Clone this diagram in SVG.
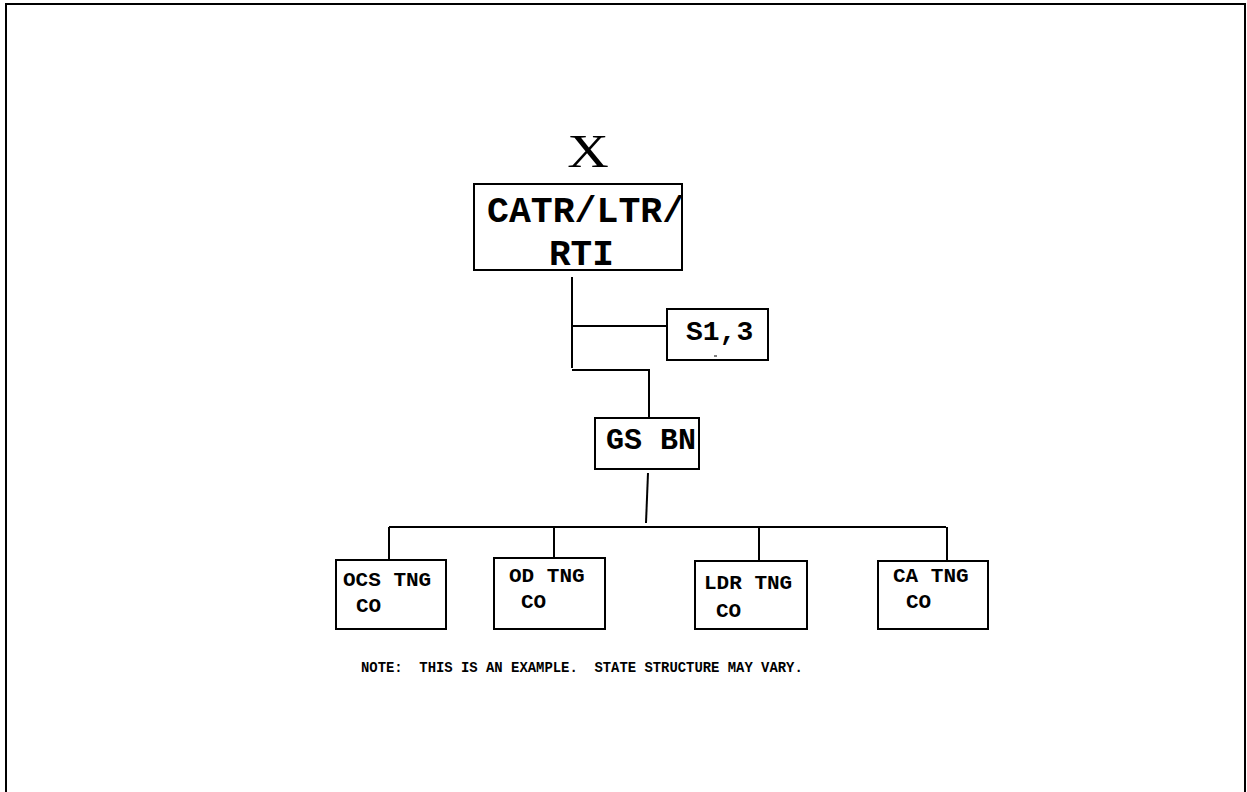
<svg xmlns="http://www.w3.org/2000/svg" width="1247" height="792" viewBox="0 0 1247 792">
<style>
.box{fill:#fff;stroke:#000;stroke-width:2}
.ln{fill:none;stroke:#000;stroke-width:2}
text{font-family:"Liberation Mono","Courier New",monospace;font-weight:bold;fill:#000}
</style>
<rect x="0" y="0" width="1247" height="792" fill="#fff"/>
<path d="M6,800 V4 H1245 V800" fill="none" stroke="#000" stroke-width="2"/>
<g id="connectors">
<path class="ln" d="M572,277 V368"/>
<path class="ln" d="M572,326 H667"/>
<path class="ln" d="M572,370 H649 V418"/>
<path class="ln" d="M648,473 L646,523"/>
<path class="ln" d="M389,527 H946"/>
<path class="ln" d="M389,527 V560"/>
<path class="ln" d="M554,527 V558"/>
<path class="ln" d="M759,527 V561"/>
<path class="ln" d="M947,527 V561"/>
</g>
<text transform="translate(588,167) scale(1.25,1)" x="0" y="0" font-size="46" style="font-family:'Liberation Serif','Times New Roman',serif;font-weight:normal" text-anchor="middle">X</text>
<g id="catr">
<rect class="box" x="474" y="184" width="208" height="86"/>
<text x="487" y="222" font-size="36.5">CATR/LTR/</text>
<text x="549" y="265" font-size="36">RTI</text>
</g>
<g id="s13">
<rect class="box" x="667" y="309" width="101" height="51"/>
<text x="686" y="340" font-size="28">S1,3</text>
<path d="M714,356 H717" stroke="#000" stroke-width="1"/>
</g>
<g id="gsbn">
<rect class="box" x="595" y="418" width="104" height="51"/>
<text x="606" y="449" font-size="30">GS BN</text>
</g>
<g id="ocs">
<rect class="box" x="336" y="560" width="110" height="69"/>
<text x="343" y="586" font-size="21">OCS TNG</text>
<text x="356" y="612" font-size="21">CO</text>
</g>
<g id="od">
<rect class="box" x="494" y="558" width="111" height="71"/>
<text x="509" y="582" font-size="21">OD TNG</text>
<text x="521" y="608" font-size="21">CO</text>
</g>
<g id="ldr">
<rect class="box" x="695" y="561" width="112" height="68"/>
<text x="704" y="589" font-size="21">LDR TNG</text>
<text x="716" y="617" font-size="21">CO</text>
</g>
<g id="ca">
<rect class="box" x="878" y="561" width="110" height="68"/>
<text x="893" y="582" font-size="21">CA TNG</text>
<text x="906" y="608" font-size="21">CO</text>
</g>
<text x="361" y="672" font-size="13.9" xml:space="preserve">NOTE:  THIS IS AN EXAMPLE.  STATE STRUCTURE MAY VARY.</text>
</svg>
